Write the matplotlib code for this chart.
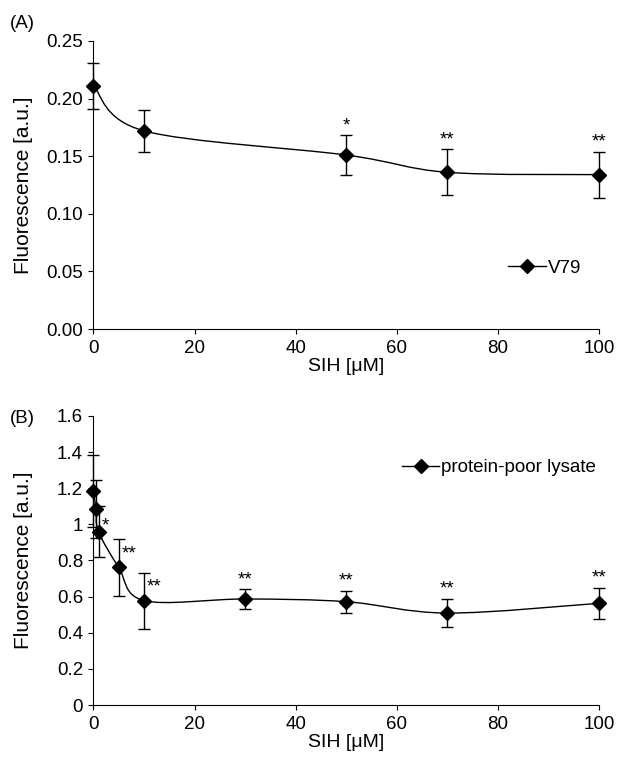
import matplotlib
matplotlib.use("Agg")
import matplotlib.pyplot as plt
import numpy as np
from matplotlib.path import Path
from matplotlib.patches import PathPatch
from matplotlib.lines import Line2D

plt.rcParams['font.family'] = ['Liberation Sans', 'DejaVu Sans']
plt.rcParams['font.size'] = 13.5

# panel A: V79 cells
a_x = [0, 10, 50, 70, 100]
a_y = [0.211, 0.172, 0.151, 0.136, 0.134]
a_err = [0.020, 0.018, 0.017, 0.020, 0.020]
a_stars = ['', '', '*', '**', '**']

# panel B: protein-poor lysate
b_x = [0, 0.5, 1, 5, 10, 30, 50, 70, 100]
b_y = [1.185, 1.083, 0.96, 0.762, 0.578, 0.587, 0.572, 0.509, 0.563]
b_err = [0.20, 0.16, 0.14, 0.157, 0.155, 0.053, 0.061, 0.077, 0.086]
b_stars = ['', '', '*', '**', '**', '**', '**', '**', '**']
b_star_side = ['', '', 'right', 'right', 'right', 'top', 'top', 'top', 'top']


def smooth_path(x, y):
    # Excel-like smoothed line: cubic Bezier segments, Catmull-Rom tangents
    pts = np.column_stack([x, y]).astype(float)
    n = len(pts)
    verts = [pts[0]]
    codes = [Path.MOVETO]
    for i in range(n - 1):
        p0 = pts[i - 1] if i > 0 else pts[i]
        p1 = pts[i]
        p2 = pts[i + 1]
        p3 = pts[i + 2] if i + 2 < n else pts[i + 1]
        verts += [p1 + (p2 - p0) / 6.0, p2 - (p3 - p1) / 6.0, p2]
        codes += [Path.CURVE4] * 3
    return Path(verts, codes)


def draw_panel(ax, x, y, err, label, legend_anchor):
    ax.add_patch(PathPatch(smooth_path(x, y), fill=False, lw=1.0,
                           edgecolor='black', transform=ax.transData))
    ax.errorbar(x, y, yerr=err, fmt='D', color='black', ms=7,
                elinewidth=1.0, capsize=4.2, capthick=1.0, clip_on=False,
                zorder=3)
    handle = Line2D([], [], color='black', lw=1.0, marker='D', ms=7)
    ax.legend([handle], [label], loc='center left', frameon=False,
              bbox_to_anchor=legend_anchor, borderpad=0, borderaxespad=0,
              handlelength=2.0, handletextpad=0.1, fontsize=13.5)
    for side in ['top', 'right']:
        ax.spines[side].set_visible(False)
    ax.tick_params(axis='x', direction='out', length=3.5, width=0.8,
                   labelsize=13.5, pad=4.5)
    ax.tick_params(axis='y', direction='out', length=3.5, width=0.8,
                   labelsize=13.5, pad=4)
    ax.set_xlim(0, 100)
    ax.set_xticks(np.arange(0, 101, 20))
    ax.set_xlabel('SIH [\u03bcM]', fontsize=14, labelpad=0.5)
    ax.set_ylabel('Fluorescence [a.u.]', fontsize=15)
    ax.yaxis.set_label_coords(-0.12, 0.5)


fig = plt.figure(figsize=(6.17, 7.63), dpi=100)

ax1 = fig.add_axes([0.1515, 0.5688, 0.8195, 0.3775])
draw_panel(ax1, a_x, a_y, a_err, 'V79', (0.82, 0.212))
ax1.set_ylim(0, 0.25)
ax1.set_yticks(np.arange(0, 0.251, 0.05))
ax1.set_yticklabels(['%.2f' % v for v in np.arange(0, 0.251, 0.05)])
for xi, yi, ei, s in zip(a_x, a_y, a_err, a_stars):
    if s:
        ax1.annotate(s, (xi, yi + ei), xytext=(0, 7), textcoords='offset points',
                     ha='center', va='center', fontsize=13.5)

ax2 = fig.add_axes([0.1515, 0.0760, 0.8195, 0.3788])
draw_panel(ax2, b_x, b_y, b_err, 'protein-poor lysate', (0.61, 0.821))
ax2.set_ylim(0, 1.6)
ax2.set_yticks(np.arange(0, 1.61, 0.2))
ax2.set_yticklabels(['0', '0.2', '0.4', '0.6', '0.8', '1', '1.2', '1.4', '1.6'])
for xi, yi, ei, s, side in zip(b_x, b_y, b_err, b_stars, b_star_side):
    if not s:
        continue
    if side == 'top':
        ax2.annotate(s, (xi, yi + ei), xytext=(0, 7), textcoords='offset points',
                     ha='center', va='center', fontsize=13.5)
    else:
        dy = 4 if s == '*' else 10
        ax2.annotate(s, (xi, yi), xytext=(2, dy), textcoords='offset points',
                     ha='left', va='center', fontsize=13.5)

fig.text(0.016, 0.969, '(A)', fontsize=13.5, va='center')
fig.text(0.016, 0.4515, '(B)', fontsize=13.5, va='center')

fig.savefig('out.png', dpi=100)
